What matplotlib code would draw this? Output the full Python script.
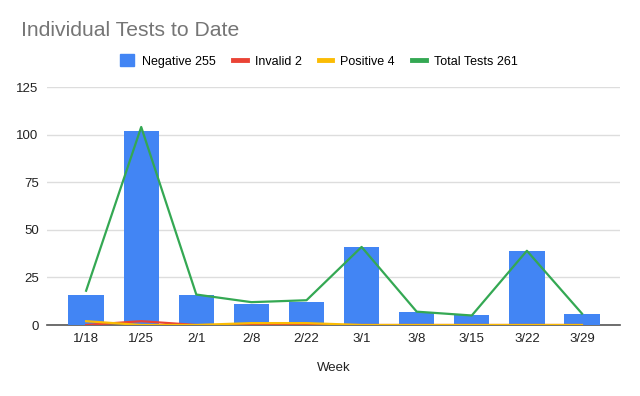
import matplotlib
matplotlib.use("Agg")
import matplotlib.pyplot as plt
from matplotlib.lines import Line2D
from matplotlib.patches import Patch

weeks = ["1/18", "1/25", "2/1", "2/8", "2/22", "3/1", "3/8", "3/15", "3/22", "3/29"]
negative = [16, 102, 16, 11, 12, 41, 7, 5, 39, 6]
invalid = [0, 2, 0, 0, 0, 0, 0, 0, 0, 0]
positive = [2, 0, 0, 1, 1, 0, 0, 0, 0, 0]
total = [18, 104, 16, 12, 13, 41, 7, 5, 39, 6]
legend_labels = ["Negative 255", "Invalid 2", "Positive 4", "Total Tests 261"]
yticks = [0, 25, 50, 75, 100, 125]

plt.rcParams['font.family'] = ['Liberation Sans', 'DejaVu Sans']

BLUE = "#4285F4"
RED = "#EA4335"
YELLOW = "#FBBC04"
GREEN = "#34A853"

fig = plt.figure(figsize=(6.4, 3.96), dpi=100)
ax = fig.add_axes([47/640, 1-325/396, (620-47)/640, (325-87)/396])

x = list(range(len(weeks)))
ax.bar(x, negative, width=0.64, color=BLUE, zorder=2)
ax.plot(x, invalid, color=RED, lw=1.6, zorder=3)
ax.plot(x, positive, color=YELLOW, lw=1.6, zorder=3)
ax.plot(x, total, color=GREEN, lw=1.6, zorder=4)

ax.set_xlim(-0.71, 9.69)
ax.set_ylim(0, 125)
ax.set_yticks(yticks)
ax.set_yticklabels([str(v) for v in yticks])
ax.set_xticks(x)
ax.set_xticklabels(weeks)
ax.grid(axis='y', color='#dddddd', lw=1, zorder=0)
ax.set_axisbelow(True)
for s in ['top', 'right', 'left']:
    ax.spines[s].set_visible(False)
ax.spines['bottom'].set_color('#555555')
ax.spines['bottom'].set_linewidth(1.2)
ax.spines['bottom'].set_zorder(1)
ax.tick_params(axis='both', length=0, labelsize=9.5, colors='#222222')
ax.tick_params(axis='x', pad=6)
ax.tick_params(axis='y', pad=6)
ax.set_xlabel("Week", fontsize=9.5, color='#222222', labelpad=12)

fig.text(21/640, 1-30/396, "Individual Tests to Date", fontsize=15.2, color='#757575',
         va='center', ha='left')

handles = [Patch(facecolor=BLUE, edgecolor=BLUE),
           Line2D([0], [0], color=RED, lw=3.5),
           Line2D([0], [0], color=YELLOW, lw=3.5),
           Line2D([0], [0], color=GREEN, lw=3.5)]
fig.legend(handles, legend_labels, loc='center', bbox_to_anchor=(319/640, 1-61/396),
           ncol=4, frameon=False, fontsize=9, handlelength=1.1, handleheight=1.1,
           handletextpad=0.64, columnspacing=1.36, borderpad=0, borderaxespad=0)

fig.savefig("out.png", dpi=100)
